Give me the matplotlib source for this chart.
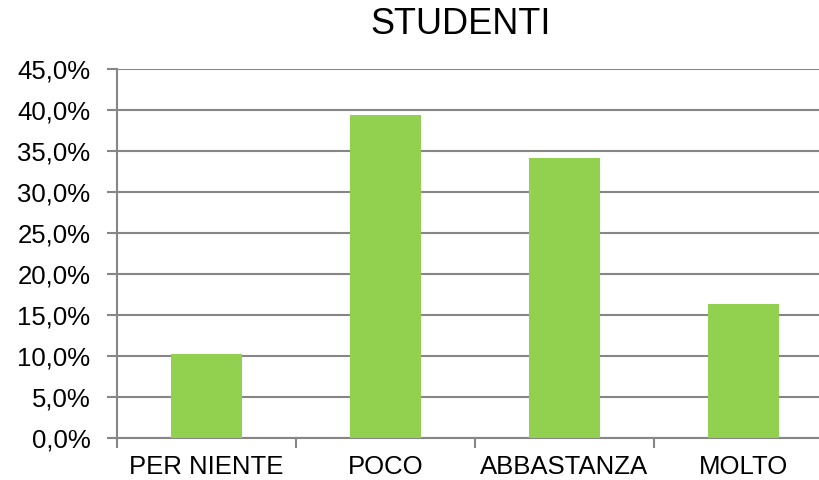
import matplotlib
matplotlib.use("Agg")
import matplotlib.pyplot as plt
import numpy as np

categories = ["PER NIENTE", "POCO", "ABBASTANZA", "MOLTO"]
values = [10.2, 39.4, 34.1, 16.3]
yticks = [0, 5, 10, 15, 20, 25, 30, 35, 40, 45]
title = "STUDENTI"

plt.rcParams['font.family'] = ['Liberation Sans', 'DejaVu Sans']

W, H = 819, 480
fig = plt.figure(figsize=(W/100, H/100), dpi=100)
left, right, top, bottom = 117, 833, 69, 438
ax = fig.add_axes([left/W, 1-bottom/H, (right-left)/W, (bottom-top)/H])

x = np.arange(len(categories))
grid_col = "#868686"
ax.bar(x, values, width=0.4, color="#92D050", zorder=3)
ax.set_xlim(-0.5, len(categories)-0.5)
ax.set_ylim(0, 45)
ax.set_yticks(yticks)
ax.set_yticklabels([f"{v:.1f}".replace(".", ",") + "%" for v in yticks], fontsize=18.5)
ax.yaxis.grid(True, color=grid_col, linewidth=1.5, zorder=0)
ax.set_axisbelow(True)

ax.set_xticks(x)
ax.set_xticklabels(categories, fontsize=18.5)
ax.set_xticks(np.arange(-0.5, len(categories)), minor=True)
ax.tick_params(axis='x', which='major', length=0, pad=12)
ax.tick_params(axis='x', which='minor', length=7, width=1.5, color=grid_col)
ax.tick_params(axis='y', length=7, width=1.5, color=grid_col, pad=12)

for s in ["top", "right"]:
    ax.spines[s].set_visible(False)
for s in ["left", "bottom"]:
    ax.spines[s].set_color(grid_col)
    ax.spines[s].set_linewidth(1.5)

fig.text(461/W, 1-25/H, title, ha="center", va="center", fontsize=26)

fig.savefig("out.png", dpi=100)
